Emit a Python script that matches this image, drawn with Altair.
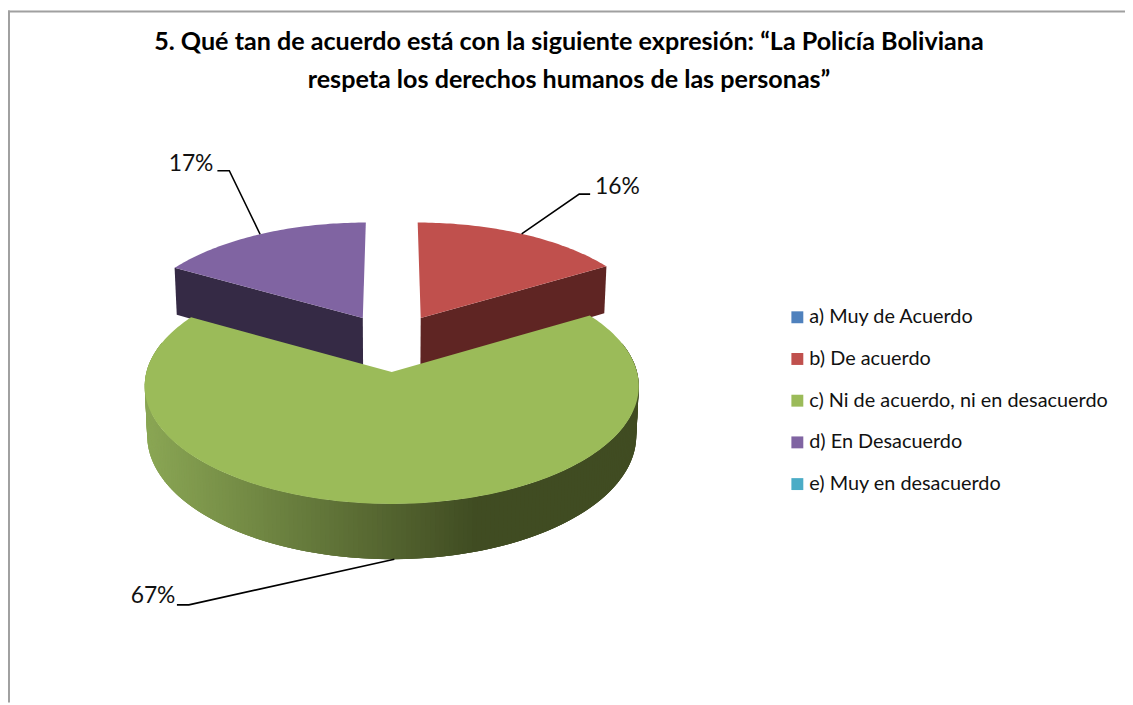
import math
import altair as alt

TITLE = ["5. Qué tan de acuerdo está con la siguiente expresión: “La Policía Boliviana",
         "respeta los derechos humanos de las personas”"]
CATEGORIES = ["a) Muy de Acuerdo", "b) De acuerdo", "c) Ni de acuerdo, ni en desacuerdo",
              "d) En Desacuerdo", "e) Muy en desacuerdo"]
VALUES = [0, 16.4, 66.9, 16.7, 0]
COLORS = ["#4F81BD", "#C0504D", "#9BBB59", "#8064A2", "#4BACC6"]
WALLS = {"b) De acuerdo": "#5F2523", "d) En Desacuerdo": "#352A45"}

FONT = "Lato"
OX, OY = 8, 8                # page margin
CX, CY = 394.5 - OX, 372 - OY
A, B, K, H = 247, 117, 0.12, 49
WALL_H = 53                  # walls run on under the green slice
EXPLODE = {"b) De acuerdo": (0.125, 0.49), "d) En Desacuerdo": (-0.125, 0.49)}
V_STRETCH = 1.03             # pulled-out slices look a little deeper


def project(u, v):
    f = 1 / (1 + K * v)
    return CX + A * u * f, CY - B * v * f, f


def top(u, v):
    x, y, _ = project(u, v)
    return [round(x, 2), round(y, 2)]


def base(u, v, h=H):
    x, y, f = project(u, v)
    return [round(CX + (x - CX) * 0.99, 2), round(y + h * f, 2)]


def rim(t, eu=0, ev=0):
    r = math.radians(t)
    stretch = V_STRETCH if ev else 1
    return eu + math.sin(r), ev + math.cos(r) * stretch


def feature(ring, cat, fill=None):
    return {"type": "Feature",
            "geometry": {"type": "Polygon", "coordinates": [ring + [ring[0]]]},
            "properties": {"cat": cat, "fill": fill}}


def lerp_color(t):
    a, b = (138, 166, 84), (64, 76, 34)
    return "#%02x%02x%02x" % tuple(round(p + (q - p) * t) for p, q in zip(a, b))


total = sum(VALUES)
faces, sides, anchors = [], [], {}
start = 0.0
for cat, val in zip(CATEGORIES, VALUES):
    sweep = val / total * 360
    if val == 0:
        continue
    eu, ev = EXPLODE.get(cat, (0, 0))
    end = start + sweep
    n = max(2, int(sweep))
    ring = [top(eu, ev)] + [top(*rim(start + sweep * i / n, eu, ev)) for i in range(n + 1)]
    faces.append(feature(ring, cat))
    mid = start + sweep / 2
    if cat in WALLS:
        edge = end if cat.startswith("b") else start
        u, v = rim(edge, eu, ev)
        wall = [top(eu, ev), top(u, v), base(u, v, WALL_H), base(eu, ev, WALL_H)]
        sides.append(feature(wall, cat, WALLS[cat]))
        anchors[cat] = top(*rim(mid, eu, ev))
    else:
        t = max(start, 75.0)
        stop = min(end, 285.0)
        while t < stop:
            t2 = min(t + 1.0, stop)
            # each strip overlaps the next one, so no seams show between them
            p, q = rim(t), rim(min(t2 + 2.0, stop))
            xx = top(*rim(t))[0] + OX
            shade = min(1, max(0, (xx - 148) / (482 - 148)))
            sides.append(feature([top(*p), top(*q), base(*q), base(*p)], cat, lerp_color(shade)))
            t = t2
        anchors[cat] = base(*rim(mid))
    start = end

# leader elbows and label places, relative to the slice's anchor
LEADERS = {
    "b) De acuerdo": ((58, -40), (69, -40), (74, -47), "left"),
    "c) Ni de acuerdo, ni en desacuerdo": ((-207, 46), (-219, 46), (-220.5, 37), "right"),
    "d) En Desacuerdo": ((-31, -64), (-43, -64), (-47, -71), "right"),
}
line_rows, label_rows = [], []
for cat, (elbow, end_pt, lab, align) in LEADERS.items():
    ax, ay = anchors[cat]
    for i, (x, y) in enumerate([(ax, ay), (ax + elbow[0], ay + elbow[1]), (ax + end_pt[0], ay + end_pt[1])]):
        line_rows.append({"cat": cat, "i": i, "x": x, "y": y})
    val = VALUES[CATEGORIES.index(cat)]
    label_rows.append({"x": ax + lab[0], "y": ay + lab[1], "t": f"{round(val)}%", "align": align})

PROJ = dict(type="identity", scale=1, translate=[0, 0])

side_layer = alt.Chart(alt.Data(values=sides)).mark_geoshape(strokeWidth=0).encode(
    fill=alt.Fill("properties.fill:N", scale=None, legend=None),
).project(**PROJ)

top_layer = alt.Chart(alt.Data(values=faces)).mark_geoshape(strokeWidth=0).encode(
    color=alt.Color("properties.cat:N",
                    scale=alt.Scale(domain=CATEGORIES, range=COLORS),
                    legend=alt.Legend(title=None, orient="none", legendX=785, legendY=299,
                                      symbolType="square", symbolSize=144, symbolStrokeWidth=0,
                                      labelFont=FONT, labelFontSize=20, labelColor="#111111",
                                      labelOffset=2, rowPadding=22, labelLimit=400)),
).project(**PROJ)

lines = alt.Chart(alt.Data(values=line_rows)).mark_line(color="black", strokeWidth=1.6).encode(
    x=alt.X("x:Q", scale=None), y=alt.Y("y:Q", scale=None),
    detail="cat:N", order="i:Q")

left_labels = alt.Chart(alt.Data(values=[r for r in label_rows if r["align"] == "right"])).mark_text(
    font=FONT, fontSize=23, align="right", baseline="middle", color="#111111").encode(
    x=alt.X("x:Q", scale=None), y=alt.Y("y:Q", scale=None), text="t:N")
right_labels = alt.Chart(alt.Data(values=[r for r in label_rows if r["align"] == "left"])).mark_text(
    font=FONT, fontSize=23, align="left", baseline="middle", color="#111111").encode(
    x=alt.X("x:Q", scale=None), y=alt.Y("y:Q", scale=None), text="t:N")

W, HT = 1125, 697
frame_left = alt.Chart(alt.Data(values=[{"a": 0}])).mark_rule(color="#A0A0A0", strokeWidth=2).encode(
    x=alt.value(1), y=alt.value(0), y2=alt.value(HT))
frame_top = alt.Chart(alt.Data(values=[{"a": 0}])).mark_rule(color="#A0A0A0", strokeWidth=2).encode(
    y=alt.value(1), x=alt.value(0), x2=alt.value(W))

chart = alt.layer(frame_left, frame_top, side_layer, top_layer, lines, left_labels, right_labels).properties(
    width=W, height=HT, padding=0,
    autosize=alt.AutoSizeParams(type="none"),
    title=alt.TitleParams(text=TITLE, font=FONT, fontSize=25.3, fontWeight="bold", color="#000000",
                          anchor="middle", frame="group", baseline="top", lineHeight=38, dy=88, dx=2.5),
).configure_view(stroke=None).configure_title(offset=0)

chart.save("out.html", embed_options={"renderer": "svg", "actions": False})
